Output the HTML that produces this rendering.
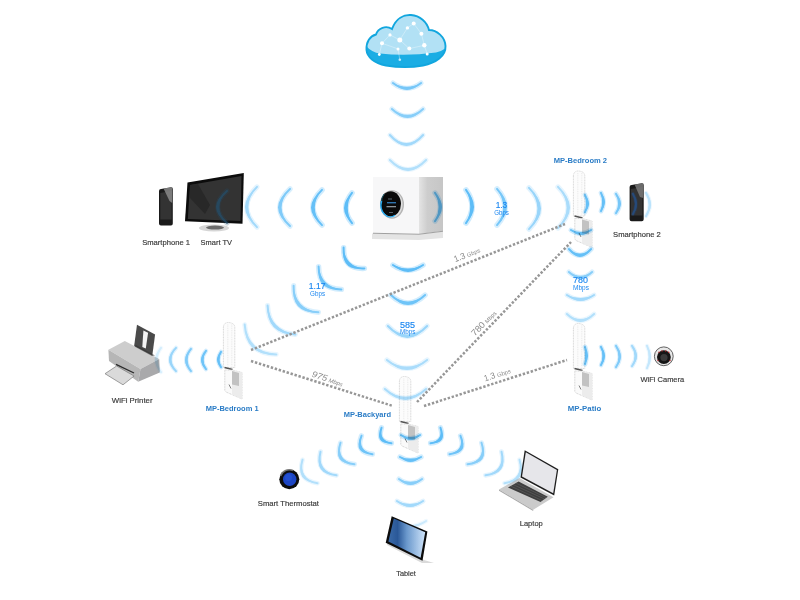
<!DOCTYPE html>
<html><head><meta charset="utf-8"><style>
html,body{margin:0;padding:0;background:#fff;width:800px;height:600px;overflow:hidden}
svg{display:block}
text{font-family:"Liberation Sans",sans-serif}
</style></head><body>
<svg width="800" height="600" viewBox="0 0 800 600">
<defs>
<linearGradient id="tabg" x1="0" y1="0" x2="1" y2="0"><stop offset="0" stop-color="#3a6aa8"/><stop offset="0.25" stop-color="#2a5898"/><stop offset="0.5" stop-color="#6a98cc"/><stop offset="1" stop-color="#cfe4fa"/></linearGradient>
<linearGradient id="cloudg" x1="0" y1="0" x2="0" y2="1"><stop offset="0" stop-color="#b4e2f4"/><stop offset="1" stop-color="#9ed6f0"/></linearGradient>
<linearGradient id="sideg" x1="0" y1="0" x2="1" y2="0"><stop offset="0" stop-color="#e4e4e4"/><stop offset="0.35" stop-color="#cdcdcd"/><stop offset="1" stop-color="#c6c6c6"/></linearGradient>
</defs>
<rect width="800" height="600" fill="#fff"/>
<g id="dev-under">
<!-- cloud -->
<g id="cloud">
  <clipPath id="cclip"><path id="cpath" d="M366.5 50 C366 42 370 36 376 34.5 C378 28 386 25 392 29 C396 18 404 14.5 411 15 C420 15.5 427 22 429 30 C437 30 445 37 445.5 46 C446 56 436 63 423 65.5 C412 67.5 398 67.5 386 65.5 C374 63 367 57 366.5 50Z"/></clipPath>
  <path d="M366.5 50 C366 42 370 36 376 34.5 C378 28 386 25 392 29 C396 18 404 14.5 411 15 C420 15.5 427 22 429 30 C437 30 445 37 445.5 46 C446 56 436 63 423 65.5 C412 67.5 398 67.5 386 65.5 C374 63 367 57 366.5 50Z" fill="#b2e1f5"/>
  <path clip-path="url(#cclip)" d="M360 44 L366 46 Q372 52.5 380 53.5 Q406 56.5 436 52.5 Q442 51 446 48 L450 48 L450 70 L360 70Z" fill="#1badE4"/>
  <path d="M366.5 50 C366 42 370 36 376 34.5 C378 28 386 25 392 29 C396 18 404 14.5 411 15 C420 15.5 427 22 429 30 C437 30 445 37 445.5 46 C446 56 436 63 423 65.5 C412 67.5 398 67.5 386 65.5 C374 63 367 57 366.5 50Z" fill="none" stroke="#12a6de" stroke-width="1.9"/>
  <g stroke="#fff" stroke-width="0.6" opacity="0.55" fill="none">
    <path d="M382 43.3 L390 34.9 L399.8 40 L407.4 27.9 L413.7 23.5 L421.4 33.7 L424.3 45.3 L409.3 48.6 L399.8 40 M398 48.9 L399.8 59.7 M382 43.3 L379.3 54.5 M424.3 45.3 L427.2 54 M382 43.3 L398 48.9"/>
  </g>
  <g fill="#fff">
    <circle cx="390" cy="34.9" r="1.6"/><circle cx="382" cy="43.3" r="2"/><circle cx="399.8" cy="40" r="2.5"/>
    <circle cx="398" cy="48.9" r="1.5"/><circle cx="379.3" cy="54.5" r="1.4"/><circle cx="399.8" cy="59.7" r="1.3" opacity="0.7"/>
    <circle cx="413.7" cy="23.5" r="2"/><circle cx="407.4" cy="27.9" r="1.7"/><circle cx="421.4" cy="33.7" r="2"/>
    <circle cx="424.3" cy="45.3" r="2.2"/><circle cx="409.3" cy="48.6" r="2"/><circle cx="427.2" cy="54" r="1.5"/>
  </g>
</g>
<!-- router -->
<g id="router">
  <path d="M372 233.5 L419 234.5 L443 231.5 L443 238 L419 240 L372 239Z" fill="#e4e4e4"/>
  <path d="M373 177 L419 177 L419 234 L373 233Z" fill="#f7f7f8"/>
  <path d="M419 177 L443 177 L443 231 L419 234Z" fill="url(#sideg)"/>
  <path d="M373 233.3 L419 234.3 L443 231.3" stroke="#a0a0a0" stroke-width="1.1" fill="none"/>
  <ellipse cx="392" cy="204.5" rx="12" ry="14.2" fill="#b4b4b4"/>
  <ellipse cx="391.6" cy="204.3" rx="11" ry="13.2" fill="#dedede"/>
  <ellipse cx="390.8" cy="203.8" rx="10.2" ry="12.6" fill="#0a0a0a"/>
  <path d="M384 194 A9.5 12 0 0 0 381.5 203" stroke="#1d5a6a" stroke-width="1" fill="none"/><path d="M381.6 201 A9.3 11.8 0 0 0 395 215.3" stroke="#22aaf2" stroke-width="1.4" fill="none"/>
  <g fill="#5d6670"><rect x="388" y="198.5" width="4" height="1"/><rect x="387" y="202" width="9" height="1.4" fill="#2f74b0"/><rect x="386.5" y="206" width="9.5" height="1.3" fill="#8a949c"/><rect x="389" y="212" width="4" height="0.9"/></g>
</g>
<!-- smartphone 1 -->
<g id="phone1">
  <path d="M159 191 Q159 189.2 161 189 L171 187.2 Q172.8 187 172.8 189 L172.8 223.5 Q172.8 225.5 171 225.5 L161 225.5 Q159 225.5 159 223.5Z" fill="#1a1a1a"/>
  <path d="M160.3 193 L171.6 191 L171.6 219.5 L160.3 219.5Z" fill="#333"/>
  <path d="M163.5 188.6 L172.2 187.3 L172.2 203 L169.5 201Z" fill="#8a8a8a" opacity="0.85"/>
</g>
<!-- smartphone 2 -->
<g id="phone2">
  <path d="M629.6 187 Q629.6 185.2 631.6 185 L641.8 183.2 Q643.7 183 643.7 185 L643.7 219.3 Q643.7 221.3 641.8 221.3 L631.6 221.3 Q629.6 221.3 629.6 219.3Z" fill="#1a1a1a"/>
  <path d="M630.9 189 L642.4 187 L642.4 215.5 L630.9 215.5Z" fill="#333"/>
  <path d="M634.5 184.4 L643.2 183.3 L643.2 198 L640 197Z" fill="#7a7a7a" opacity="0.85"/>
</g>
<!-- TV -->
<g id="tv">
  <ellipse cx="214" cy="228" rx="15" ry="3.6" fill="#d6d6d6"/>
  <ellipse cx="215" cy="227.6" rx="9" ry="2" fill="#6a6a6a"/>
  <path d="M187.5 182.5 L243.8 173 L242.5 223.8 L185 221.3Z" fill="#0c0c0c"/>
  <path d="M190 185 L241.5 176 L240.5 221 L187.8 219Z" fill="#333"/>
  <path d="M190 185 L198 184 L210 205 L205 214 L190 198Z" fill="#262626" opacity="0.8"/>
</g>
<!-- printer -->
<g id="printer">
  <path d="M137 324.7 L155.1 334.6 L152.2 356.2 L134.1 346.3Z" fill="#4a4a4a"/>
  <path d="M143.4 330.5 L148.1 332.8 L145.8 348.6 L142.3 347Z" fill="#f4f4f4"/>
  <path d="M108.4 349.8 L124.8 341 L159.2 359 L140.5 369Z" fill="#cdcdcd"/>
  <path d="M134.5 346.5 L152 356 L155 355.5 L136 345Z" fill="#333" opacity="0.6"/>
  <path d="M108.4 349.8 L140.5 369 L138.2 381.8 L109 361Z" fill="#b6b6b6"/>
  <path d="M140.5 369 L159.2 359 L159.8 372.5 L138.2 381.8Z" fill="#a9a9ab"/>
  <path d="M116 364.3 L134 373" stroke="#2a2a2a" stroke-width="1.3"/>
  <path d="M105 373.7 L116.6 366 L134.1 376 L123 384.8Z" fill="#dadada" stroke="#7a7a7a" stroke-width="0.7"/>
</g>
<!-- camera -->
<g id="camera">
  <circle cx="663.8" cy="356.3" r="9.4" fill="#e8e8e8" stroke="#505050" stroke-width="0.9"/>
  <circle cx="663.9" cy="357.1" r="6.9" fill="#161616"/>
  <circle cx="664" cy="357.6" r="3.6" fill="#3a3a3a"/>
  <g fill="#c0282a"><circle cx="659" cy="352.3" r="0.7"/><circle cx="662" cy="351" r="0.7"/><circle cx="665.8" cy="351" r="0.7"/><circle cx="668.7" cy="352.3" r="0.7"/><circle cx="658" cy="360.5" r="0.7"/><circle cx="670" cy="360.5" r="0.7"/></g>
</g>
<!-- thermostat -->
<g id="thermostat">
  <circle cx="289.3" cy="479.3" r="10" fill="#0e0e0e"/>
  <path d="M280.5 476 A9.3 9.3 0 0 1 293 470.5" stroke="#8a8a8a" stroke-width="1.6" fill="none" opacity="0.8"/>
  <circle cx="289.7" cy="479.2" r="6.7" fill="#1d46c4"/>
  <circle cx="288.5" cy="477.5" r="3.5" fill="#2a5ae0" opacity="0.5"/>
</g>
<!-- laptop base -->
<g id="laptop">
  <path d="M499 489.5 L519.4 478 L553.5 497.2 L533.2 509.8Z" fill="#cbcbcb"/>
  <path d="M499 489.5 L533.2 509.8 L533.2 511 L499 490.7Z" fill="#a8a8a8"/>
  <path d="M508 487.5 L518.6 481.4 L547.8 496.8 L540.5 502Z" fill="#3e3e3e"/>
  <g stroke="#8a8a8a" stroke-width="0.35" opacity="0.8"><path d="M510.5 486 L542 500.5 M513 484.5 L544.5 499 M515.8 483 L546.5 497.8"/></g>
  <path d="M524.7 450.3 L558.3 469.2 L554.2 495.5 L520.5 477.5Z" fill="#1e1e1e"/>
  <path d="M525.8 452.3 L556.9 469.9 L553.2 493.3 L522 476.5Z" fill="#e6e6ea"/>
</g>
<!-- MP devices -->
<g id="mp">
  <g transform="translate(223,322.5)">
    <path d="M0.4 5 Q0.6 0 5.5 0 Q11.8 0.5 11.8 5 L11.8 45 L0.4 45Z" fill="#fcfcfc" stroke="#d2d2d2" stroke-width="0.9" stroke-dasharray="1 0.6"/>
    <path d="M4.8 2 L4.8 44 M8.8 2 L8.8 44" stroke="#e2e2e2" stroke-width="0.7" stroke-dasharray="1 0.8"/>
    <path d="M1.5 45 L9.5 47" stroke="#555" stroke-width="1.3"/>
    <path d="M1.8 47.5 L9 47.5 L19 50 L19 76.5 L3 69.5 L1.8 68Z" fill="#fafafa" stroke="#d0d0d0" stroke-width="0.9" stroke-dasharray="1 0.6"/>
    <path d="M9 48 L19 50 L19 76.5 L9 72Z" fill="#ececec" stroke="none"/>
    <path d="M9 48.5 L16 50.5 L16 63.5 L9 62Z" fill="#c2c2c2" stroke="none"/>
    <path d="M6 62 L8 66" stroke="#666" stroke-width="0.8"/>
  </g>
  <g transform="translate(573,171)">
    <path d="M0.4 5 Q0.6 0 5.5 0 Q11.8 0.5 11.8 5 L11.8 45 L0.4 45Z" fill="#fcfcfc" stroke="#d2d2d2" stroke-width="0.9" stroke-dasharray="1 0.6"/>
    <path d="M4.8 2 L4.8 44 M8.8 2 L8.8 44" stroke="#e2e2e2" stroke-width="0.7" stroke-dasharray="1 0.8"/>
    <path d="M1.5 45 L9.5 47" stroke="#555" stroke-width="1.3"/>
    <path d="M1.8 47.5 L9 47.5 L19 50 L19 76.5 L3 69.5 L1.8 68Z" fill="#fafafa" stroke="#d0d0d0" stroke-width="0.9" stroke-dasharray="1 0.6"/>
    <path d="M9 48 L19 50 L19 76.5 L9 72Z" fill="#ececec" stroke="none"/>
    <path d="M9 48.5 L16 50.5 L16 63.5 L9 62Z" fill="#c2c2c2" stroke="none"/>
    <path d="M6 62 L8 66" stroke="#666" stroke-width="0.8"/>
  </g>
  <g transform="translate(399,376.5)">
    <path d="M0.4 5 Q0.6 0 5.5 0 Q11.8 0.5 11.8 5 L11.8 45 L0.4 45Z" fill="#fcfcfc" stroke="#d2d2d2" stroke-width="0.9" stroke-dasharray="1 0.6"/>
    <path d="M4.8 2 L4.8 44 M8.8 2 L8.8 44" stroke="#e2e2e2" stroke-width="0.7" stroke-dasharray="1 0.8"/>
    <path d="M1.5 45 L9.5 47" stroke="#555" stroke-width="1.3"/>
    <path d="M1.8 47.5 L9 47.5 L19 50 L19 76.5 L3 69.5 L1.8 68Z" fill="#fafafa" stroke="#d0d0d0" stroke-width="0.9" stroke-dasharray="1 0.6"/>
    <path d="M9 48 L19 50 L19 76.5 L9 72Z" fill="#ececec" stroke="none"/>
    <path d="M9 48.5 L16 50.5 L16 63.5 L9 62Z" fill="#c2c2c2" stroke="none"/>
    <path d="M6 62 L8 66" stroke="#666" stroke-width="0.8"/>
  </g>
  <g transform="translate(573,323.5)">
    <path d="M0.4 5 Q0.6 0 5.5 0 Q11.8 0.5 11.8 5 L11.8 45 L0.4 45Z" fill="#fcfcfc" stroke="#d2d2d2" stroke-width="0.9" stroke-dasharray="1 0.6"/>
    <path d="M4.8 2 L4.8 44 M8.8 2 L8.8 44" stroke="#e2e2e2" stroke-width="0.7" stroke-dasharray="1 0.8"/>
    <path d="M1.5 45 L9.5 47" stroke="#555" stroke-width="1.3"/>
    <path d="M1.8 47.5 L9 47.5 L19 50 L19 76.5 L3 69.5 L1.8 68Z" fill="#fafafa" stroke="#d0d0d0" stroke-width="0.9" stroke-dasharray="1 0.6"/>
    <path d="M9 48 L19 50 L19 76.5 L9 72Z" fill="#ececec" stroke="none"/>
    <path d="M9 48.5 L16 50.5 L16 63.5 L9 62Z" fill="#c2c2c2" stroke="none"/>
    <path d="M6 62 L8 66" stroke="#666" stroke-width="0.8"/>
  </g>
</g>

</g>
<g id="arcs" style="mix-blend-mode:multiply">
<g opacity="0.8"><path d="M392.9 83Q407 93.8 421.1 83" fill="none" stroke="#56baf7" stroke-opacity="0.3" stroke-width="5" stroke-linecap="round"/><path d="M392.9 83Q407 97 421.1 83Q407 90.6 392.9 83Z" fill="#56baf7"/><path d="M392.9 83Q407 93.8 421.1 83" fill="none" stroke="#56baf7" stroke-width="2" stroke-linecap="round"/></g>
<g opacity="0.7"><path d="M391.9 109Q407.5 123.8 423.1 109" fill="none" stroke="#56baf7" stroke-opacity="0.3" stroke-width="5" stroke-linecap="round"/><path d="M391.9 109Q407.5 127 423.1 109Q407.5 120.6 391.9 109Z" fill="#56baf7"/><path d="M391.9 109Q407.5 123.8 423.1 109" fill="none" stroke="#56baf7" stroke-width="2" stroke-linecap="round"/></g>
<g opacity="0.55"><path d="M389.9 135Q406.5 154 423.1 135" fill="none" stroke="#56baf7" stroke-opacity="0.3" stroke-width="4.8" stroke-linecap="round"/><path d="M389.9 135Q406.5 157 423.1 135Q406.5 151 389.9 135Z" fill="#56baf7"/><path d="M389.9 135Q406.5 154 423.1 135" fill="none" stroke="#56baf7" stroke-width="2" stroke-linecap="round"/></g>
<g opacity="0.45"><path d="M389.9 160Q408 179 426.1 160" fill="none" stroke="#56baf7" stroke-opacity="0.3" stroke-width="4.8" stroke-linecap="round"/><path d="M389.9 160Q408 182 426.1 160Q408 176 389.9 160Z" fill="#56baf7"/><path d="M389.9 160Q408 179 426.1 160" fill="none" stroke="#56baf7" stroke-width="2" stroke-linecap="round"/></g>
<g opacity="0.55"><path d="M257 186.9Q236.4 207 257 227.1" fill="none" stroke="#56baf7" stroke-opacity="0.3" stroke-width="5.2" stroke-linecap="round"/><path d="M257 186.9Q233 207 257 227.1Q239.8 207 257 186.9Z" fill="#56baf7"/><path d="M257 186.9Q236.4 207 257 227.1" fill="none" stroke="#56baf7" stroke-width="2" stroke-linecap="round"/></g>
<g opacity="0.75"><path d="M290 188.9Q269.6 207.5 290 226.1" fill="none" stroke="#56baf7" stroke-opacity="0.3" stroke-width="5.4" stroke-linecap="round"/><path d="M290 188.9Q266 207.5 290 226.1Q273.2 207.5 290 188.9Z" fill="#56baf7"/><path d="M290 188.9Q269.6 207.5 290 226.1" fill="none" stroke="#56baf7" stroke-width="2" stroke-linecap="round"/></g>
<g opacity="0.9"><path d="M322 189.9Q303.8 207.5 322 225.1" fill="none" stroke="#56baf7" stroke-opacity="0.3" stroke-width="5.6" stroke-linecap="round"/><path d="M322 189.9Q300 207.5 322 225.1Q307.6 207.5 322 189.9Z" fill="#56baf7"/><path d="M322 189.9Q303.8 207.5 322 225.1" fill="none" stroke="#56baf7" stroke-width="2" stroke-linecap="round"/></g>
<g opacity="0.95"><path d="M352 192.9Q339.8 208 352 223.1" fill="none" stroke="#56baf7" stroke-opacity="0.3" stroke-width="5.6" stroke-linecap="round"/><path d="M352 192.9Q336 208 352 223.1Q343.6 208 352 192.9Z" fill="#56baf7"/><path d="M352 192.9Q339.8 208 352 223.1" fill="none" stroke="#56baf7" stroke-width="2" stroke-linecap="round"/></g>
<g opacity="0.9"><path d="M435 192.9Q445.6 207 435 221.1" fill="none" stroke="#56baf7" stroke-opacity="0.3" stroke-width="5.2" stroke-linecap="round"/><path d="M435 192.9Q449 207 435 221.1Q442.2 207 435 192.9Z" fill="#56baf7"/><path d="M435 192.9Q445.6 207 435 221.1" fill="none" stroke="#56baf7" stroke-width="2" stroke-linecap="round"/></g>
<g opacity="0.95"><path d="M466 189.9Q478.2 206.5 466 223.1" fill="none" stroke="#56baf7" stroke-opacity="0.3" stroke-width="5.6" stroke-linecap="round"/><path d="M466 189.9Q482 206.5 466 223.1Q474.4 206.5 466 189.9Z" fill="#56baf7"/><path d="M466 189.9Q478.2 206.5 466 223.1" fill="none" stroke="#56baf7" stroke-width="2" stroke-linecap="round"/></g>
<g opacity="0.8"><path d="M497 188.9Q513.2 207 497 225.1" fill="none" stroke="#56baf7" stroke-opacity="0.3" stroke-width="5.6" stroke-linecap="round"/><path d="M497 188.9Q517 207 497 225.1Q509.4 207 497 188.9Z" fill="#56baf7"/><path d="M497 188.9Q513.2 207 497 225.1" fill="none" stroke="#56baf7" stroke-width="2" stroke-linecap="round"/></g>
<g opacity="0.6"><path d="M529 187.9Q549.4 208.5 529 229.1" fill="none" stroke="#56baf7" stroke-opacity="0.3" stroke-width="5.4" stroke-linecap="round"/><path d="M529 187.9Q553 208.5 529 229.1Q545.8 208.5 529 187.9Z" fill="#56baf7"/><path d="M529 187.9Q549.4 208.5 529 229.1" fill="none" stroke="#56baf7" stroke-width="2" stroke-linecap="round"/></g>
<g opacity="0.5"><path d="M558 186.9Q578.6 207.5 558 228.1" fill="none" stroke="#56baf7" stroke-opacity="0.3" stroke-width="5.2" stroke-linecap="round"/><path d="M558 186.9Q582 207.5 558 228.1Q575.2 207.5 558 186.9Z" fill="#56baf7"/><path d="M558 186.9Q578.6 207.5 558 228.1" fill="none" stroke="#56baf7" stroke-width="2" stroke-linecap="round"/></g>
<g opacity="0.9"><path d="M585 194.9Q590 203.5 585 212.1" fill="none" stroke="#56baf7" stroke-opacity="0.3" stroke-width="4.8" stroke-linecap="round"/><path d="M585 194.9Q593 203.5 585 212.1Q587 203.5 585 194.9Z" fill="#56baf7"/><path d="M585 194.9Q590 203.5 585 212.1" fill="none" stroke="#56baf7" stroke-width="2" stroke-linecap="round"/></g>
<g opacity="0.9"><path d="M570.9 230Q581 237 591.1 230" fill="none" stroke="#56baf7" stroke-opacity="0.3" stroke-width="4.8" stroke-linecap="round"/><path d="M570.9 230Q581 240 591.1 230Q581 234 570.9 230Z" fill="#56baf7"/><path d="M570.9 230Q581 237 591.1 230" fill="none" stroke="#56baf7" stroke-width="2" stroke-linecap="round"/></g>
<g opacity="0.9"><path d="M601 192.9Q606 202 601 211.1" fill="none" stroke="#56baf7" stroke-opacity="0.3" stroke-width="4.8" stroke-linecap="round"/><path d="M601 192.9Q609 202 601 211.1Q603 202 601 192.9Z" fill="#56baf7"/><path d="M601 192.9Q606 202 601 211.1" fill="none" stroke="#56baf7" stroke-width="2" stroke-linecap="round"/></g>
<g opacity="0.8"><path d="M616 193.9Q623 203.5 616 213.1" fill="none" stroke="#56baf7" stroke-opacity="0.3" stroke-width="4.8" stroke-linecap="round"/><path d="M616 193.9Q626 203.5 616 213.1Q620 203.5 616 193.9Z" fill="#56baf7"/><path d="M616 193.9Q623 203.5 616 213.1" fill="none" stroke="#56baf7" stroke-width="2" stroke-linecap="round"/></g>
<g opacity="0.4"><path d="M646 192.9Q653.6 204.5 646 216.1" fill="none" stroke="#56baf7" stroke-opacity="0.3" stroke-width="4.2" stroke-linecap="round"/><path d="M646 192.9Q656 204.5 646 216.1Q651.2 204.5 646 192.9Z" fill="#56baf7"/><path d="M646 192.9Q653.6 204.5 646 216.1" fill="none" stroke="#56baf7" stroke-width="2" stroke-linecap="round"/></g>
<g opacity="0.9"><path d="M568.9 249Q580 261.6 591.1 249" fill="none" stroke="#56baf7" stroke-opacity="0.3" stroke-width="5.2" stroke-linecap="round"/><path d="M568.9 249Q580 265 591.1 249Q580 258.2 568.9 249Z" fill="#56baf7"/><path d="M568.9 249Q580 261.6 591.1 249" fill="none" stroke="#56baf7" stroke-width="2" stroke-linecap="round"/></g>
<g opacity="0.7"><path d="M568.9 272Q580.5 282.8 592.1 272" fill="none" stroke="#56baf7" stroke-opacity="0.3" stroke-width="5" stroke-linecap="round"/><path d="M568.9 272Q580.5 286 592.1 272Q580.5 279.6 568.9 272Z" fill="#56baf7"/><path d="M568.9 272Q580.5 282.8 592.1 272" fill="none" stroke="#56baf7" stroke-width="2" stroke-linecap="round"/></g>
<g opacity="0.55"><path d="M566.9 295Q580.5 304 594.1 295" fill="none" stroke="#56baf7" stroke-opacity="0.3" stroke-width="4.8" stroke-linecap="round"/><path d="M566.9 295Q580.5 307 594.1 295Q580.5 301 566.9 295Z" fill="#56baf7"/><path d="M566.9 295Q580.5 304 594.1 295" fill="none" stroke="#56baf7" stroke-width="2" stroke-linecap="round"/></g>
<g opacity="0.45"><path d="M566.9 314Q580.5 327 594.1 314" fill="none" stroke="#56baf7" stroke-opacity="0.3" stroke-width="4.8" stroke-linecap="round"/><path d="M566.9 314Q580.5 330 594.1 314Q580.5 324 566.9 314Z" fill="#56baf7"/><path d="M566.9 314Q580.5 327 594.1 314" fill="none" stroke="#56baf7" stroke-width="2" stroke-linecap="round"/></g>
<g opacity="0.9"><path d="M585 346.9Q588 355.5 585 364.1" fill="none" stroke="#56baf7" stroke-opacity="0.3" stroke-width="4.8" stroke-linecap="round"/><path d="M585 346.9Q591 355.5 585 364.1Q585 355.5 585 346.9Z" fill="#56baf7"/><path d="M585 346.9Q588 355.5 585 364.1" fill="none" stroke="#56baf7" stroke-width="2" stroke-linecap="round"/></g>
<g opacity="0.9"><path d="M601 346.9Q606.4 356 601 365.1" fill="none" stroke="#56baf7" stroke-opacity="0.3" stroke-width="4.4" stroke-linecap="round"/><path d="M601 346.9Q609 356 601 365.1Q603.8 356 601 346.9Z" fill="#56baf7"/><path d="M601 346.9Q606.4 356 601 365.1" fill="none" stroke="#56baf7" stroke-width="2" stroke-linecap="round"/></g>
<g opacity="0.75"><path d="M616 345.9Q623.4 356.5 616 367.1" fill="none" stroke="#56baf7" stroke-opacity="0.3" stroke-width="4.4" stroke-linecap="round"/><path d="M616 345.9Q626 356.5 616 367.1Q620.8 356.5 616 345.9Z" fill="#56baf7"/><path d="M616 345.9Q623.4 356.5 616 367.1" fill="none" stroke="#56baf7" stroke-width="2" stroke-linecap="round"/></g>
<g opacity="0.55"><path d="M632 345.9Q639.5 356 632 366.1" fill="none" stroke="#56baf7" stroke-opacity="0.3" stroke-width="4.3" stroke-linecap="round"/><path d="M632 345.9Q642 356 632 366.1Q637 356 632 345.9Z" fill="#56baf7"/><path d="M632 345.9Q639.5 356 632 366.1" fill="none" stroke="#56baf7" stroke-width="2" stroke-linecap="round"/></g>
<g opacity="0.35"><path d="M647 345.9Q652.6 357 647 368.1" fill="none" stroke="#56baf7" stroke-opacity="0.3" stroke-width="4.2" stroke-linecap="round"/><path d="M647 345.9Q655 357 647 368.1Q650.2 357 647 345.9Z" fill="#56baf7"/><path d="M647 345.9Q652.6 357 647 368.1" fill="none" stroke="#56baf7" stroke-width="2" stroke-linecap="round"/></g>
<g opacity="0.25"><path d="M161 347.9Q151.6 360 161 372.1" fill="none" stroke="#56baf7" stroke-opacity="0.3" stroke-width="4.4" stroke-linecap="round"/><path d="M161 347.9Q149 360 161 372.1Q154.2 360 161 347.9Z" fill="#56baf7"/><path d="M161 347.9Q151.6 360 161 372.1" fill="none" stroke="#56baf7" stroke-width="2" stroke-linecap="round"/></g>
<g opacity="0.6"><path d="M176 347.9Q164.5 359.5 176 371.1" fill="none" stroke="#56baf7" stroke-opacity="0.3" stroke-width="4.3" stroke-linecap="round"/><path d="M176 347.9Q162 359.5 176 371.1Q167 359.5 176 347.9Z" fill="#56baf7"/><path d="M176 347.9Q164.5 359.5 176 371.1" fill="none" stroke="#56baf7" stroke-width="2" stroke-linecap="round"/></g>
<g opacity="0.75"><path d="M191 348.9Q181.6 360 191 371.1" fill="none" stroke="#56baf7" stroke-opacity="0.3" stroke-width="4.4" stroke-linecap="round"/><path d="M191 348.9Q179 360 191 371.1Q184.2 360 191 348.9Z" fill="#56baf7"/><path d="M191 348.9Q181.6 360 191 371.1" fill="none" stroke="#56baf7" stroke-width="2" stroke-linecap="round"/></g>
<g opacity="0.85"><path d="M206 350.9Q198.6 360 206 369.1" fill="none" stroke="#56baf7" stroke-opacity="0.3" stroke-width="4.4" stroke-linecap="round"/><path d="M206 350.9Q196 360 206 369.1Q201.2 360 206 350.9Z" fill="#56baf7"/><path d="M206 350.9Q198.6 360 206 369.1" fill="none" stroke="#56baf7" stroke-width="2" stroke-linecap="round"/></g>
<g opacity="0.9"><path d="M221 351.9Q215.6 359.5 221 367.1" fill="none" stroke="#56baf7" stroke-opacity="0.3" stroke-width="4.4" stroke-linecap="round"/><path d="M221 351.9Q213 359.5 221 367.1Q218.2 359.5 221 351.9Z" fill="#56baf7"/><path d="M221 351.9Q215.6 359.5 221 367.1" fill="none" stroke="#56baf7" stroke-width="2" stroke-linecap="round"/></g>
<g opacity="0.95"><path d="M392.9 265Q408 275.4 423.1 265" fill="none" stroke="#56baf7" stroke-opacity="0.3" stroke-width="5.4" stroke-linecap="round"/><path d="M392.9 265Q408 279 423.1 265Q408 271.8 392.9 265Z" fill="#56baf7"/><path d="M392.9 265Q408 275.4 423.1 265" fill="none" stroke="#56baf7" stroke-width="2" stroke-linecap="round"/></g>
<g opacity="0.85"><path d="M390.9 295Q408 311.4 425.1 295" fill="none" stroke="#56baf7" stroke-opacity="0.3" stroke-width="5.4" stroke-linecap="round"/><path d="M390.9 295Q408 315 425.1 295Q408 307.8 390.9 295Z" fill="#56baf7"/><path d="M390.9 295Q408 311.4 425.1 295" fill="none" stroke="#56baf7" stroke-width="2" stroke-linecap="round"/></g>
<g opacity="0.6"><path d="M387.9 326Q407.5 346.6 427.1 326" fill="none" stroke="#56baf7" stroke-opacity="0.3" stroke-width="5.2" stroke-linecap="round"/><path d="M387.9 326Q407.5 350 427.1 326Q407.5 343.2 387.9 326Z" fill="#56baf7"/><path d="M387.9 326Q407.5 346.6 427.1 326" fill="none" stroke="#56baf7" stroke-width="2" stroke-linecap="round"/></g>
<g opacity="0.5"><path d="M386.9 360Q407 376.6 427.1 360" fill="none" stroke="#56baf7" stroke-opacity="0.3" stroke-width="5.2" stroke-linecap="round"/><path d="M386.9 360Q407 380 427.1 360Q407 373.2 386.9 360Z" fill="#56baf7"/><path d="M386.9 360Q407 376.6 427.1 360" fill="none" stroke="#56baf7" stroke-width="2" stroke-linecap="round"/></g>
<g opacity="0.95"><path d="M343.6 247.6Q342.7 269.3 364.4 268.4" fill="none" stroke="#56baf7" stroke-opacity="0.3" stroke-width="5.4" stroke-linecap="round"/><path d="M343.6 247.6Q340.1 271.9 364.4 268.4Q345.2 266.8 343.6 247.6Z" fill="#56baf7"/><path d="M343.6 247.6Q342.7 269.3 364.4 268.4" fill="none" stroke="#56baf7" stroke-width="2" stroke-linecap="round"/></g>
<g opacity="0.85"><path d="M318.6 266.6Q318.7 289.3 341.4 289.4" fill="none" stroke="#56baf7" stroke-opacity="0.3" stroke-width="5.4" stroke-linecap="round"/><path d="M318.6 266.6Q316.1 291.9 341.4 289.4Q321.2 286.8 318.6 266.6Z" fill="#56baf7"/><path d="M318.6 266.6Q318.7 289.3 341.4 289.4" fill="none" stroke="#56baf7" stroke-width="2" stroke-linecap="round"/></g>
<g opacity="0.7"><path d="M293.6 285.7Q292.8 311.2 318.4 312.3" fill="none" stroke="#56baf7" stroke-opacity="0.3" stroke-width="5.2" stroke-linecap="round"/><path d="M293.6 285.7Q290.3 313.6 318.4 312.3Q295.3 308.9 293.6 285.7Z" fill="#56baf7"/><path d="M293.6 285.7Q292.8 311.2 318.4 312.3" fill="none" stroke="#56baf7" stroke-width="2" stroke-linecap="round"/></g>
<g opacity="0.55"><path d="M267.6 305.6Q268.6 332.5 295.4 334.4" fill="none" stroke="#56baf7" stroke-opacity="0.3" stroke-width="5" stroke-linecap="round"/><path d="M267.6 305.6Q266.3 334.7 295.4 334.4Q270.9 330.3 267.6 305.6Z" fill="#56baf7"/><path d="M267.6 305.6Q268.6 332.5 295.4 334.4" fill="none" stroke="#56baf7" stroke-width="2" stroke-linecap="round"/></g>
<g opacity="0.45"><path d="M244.7 324.6Q246.8 354.1 276.3 354.4" fill="none" stroke="#56baf7" stroke-opacity="0.3" stroke-width="4.8" stroke-linecap="round"/><path d="M244.7 324.6Q244.8 356.3 276.3 354.4Q248.9 351.9 244.7 324.6Z" fill="#56baf7"/><path d="M244.7 324.6Q246.8 354.1 276.3 354.4" fill="none" stroke="#56baf7" stroke-width="2" stroke-linecap="round"/></g>
<g opacity="0.5"><path d="M384.9 389Q405.5 407.8 426.1 389" fill="none" stroke="#56baf7" stroke-opacity="0.3" stroke-width="5" stroke-linecap="round"/><path d="M384.9 389Q405.5 411 426.1 389Q405.5 404.6 384.9 389Z" fill="#56baf7"/><path d="M384.9 389Q405.5 407.8 426.1 389" fill="none" stroke="#56baf7" stroke-width="2" stroke-linecap="round"/></g>
<g opacity="0.9"><path d="M400.9 435Q410.5 442 420.1 435" fill="none" stroke="#56baf7" stroke-opacity="0.3" stroke-width="4.8" stroke-linecap="round"/><path d="M400.9 435Q410.5 445 420.1 435Q410.5 439 400.9 435Z" fill="#56baf7"/><path d="M400.9 435Q410.5 442 420.1 435" fill="none" stroke="#56baf7" stroke-width="2" stroke-linecap="round"/></g>
<g opacity="0.9"><path d="M399.9 457Q410.5 463.6 421.1 457" fill="none" stroke="#56baf7" stroke-opacity="0.3" stroke-width="5.2" stroke-linecap="round"/><path d="M399.9 457Q410.5 467 421.1 457Q410.5 460.2 399.9 457Z" fill="#56baf7"/><path d="M399.9 457Q410.5 463.6 421.1 457" fill="none" stroke="#56baf7" stroke-width="2" stroke-linecap="round"/></g>
<g opacity="0.7"><path d="M398.9 479Q410.5 487.8 422.1 479" fill="none" stroke="#56baf7" stroke-opacity="0.3" stroke-width="5" stroke-linecap="round"/><path d="M398.9 479Q410.5 491 422.1 479Q410.5 484.6 398.9 479Z" fill="#56baf7"/><path d="M398.9 479Q410.5 487.8 422.1 479" fill="none" stroke="#56baf7" stroke-width="2" stroke-linecap="round"/></g>
<g opacity="0.55"><path d="M396.9 501Q410 510 423.1 501" fill="none" stroke="#56baf7" stroke-opacity="0.3" stroke-width="4.8" stroke-linecap="round"/><path d="M396.9 501Q410 513 423.1 501Q410 507 396.9 501Z" fill="#56baf7"/><path d="M396.9 501Q410 510 423.1 501" fill="none" stroke="#56baf7" stroke-width="2" stroke-linecap="round"/></g>
<g opacity="0.3"><path d="M394.9 521Q410.5 531.4 426.1 521" fill="none" stroke="#56baf7" stroke-opacity="0.3" stroke-width="4.4" stroke-linecap="round"/><path d="M394.9 521Q410.5 534 426.1 521Q410.5 528.8 394.9 521Z" fill="#56baf7"/><path d="M394.9 521Q410.5 531.4 426.1 521" fill="none" stroke="#56baf7" stroke-width="2" stroke-linecap="round"/></g>
<g opacity="0.95"><path d="M381.5 427.8Q376.4 442 391.5 443.2" fill="none" stroke="#56baf7" stroke-opacity="0.3" stroke-width="5.2" stroke-linecap="round"/><path d="M381.5 427.8Q373.6 443.9 391.5 443.2Q379.3 440.2 381.5 427.8Z" fill="#56baf7"/><path d="M381.5 427.8Q376.4 442 391.5 443.2" fill="none" stroke="#56baf7" stroke-width="2" stroke-linecap="round"/></g>
<g opacity="0.85"><path d="M361.5 435.8Q355 452.2 372.5 454.2" fill="none" stroke="#56baf7" stroke-opacity="0.3" stroke-width="5.2" stroke-linecap="round"/><path d="M361.5 435.8Q352.1 454 372.5 454.2Q357.9 450.5 361.5 435.8Z" fill="#56baf7"/><path d="M361.5 435.8Q355 452.2 372.5 454.2" fill="none" stroke="#56baf7" stroke-width="2" stroke-linecap="round"/></g>
<g opacity="0.7"><path d="M340.5 442.8Q334.1 462.2 354.5 464.2" fill="none" stroke="#56baf7" stroke-opacity="0.3" stroke-width="5" stroke-linecap="round"/><path d="M340.5 442.8Q331.4 464 354.5 464.2Q336.8 460.5 340.5 442.8Z" fill="#56baf7"/><path d="M340.5 442.8Q334.1 462.2 354.5 464.2" fill="none" stroke="#56baf7" stroke-width="2" stroke-linecap="round"/></g>
<g opacity="0.55"><path d="M320.5 451.7Q315.3 472.5 336.5 475.3" fill="none" stroke="#56baf7" stroke-opacity="0.3" stroke-width="4.8" stroke-linecap="round"/><path d="M320.5 451.7Q312.8 474.2 336.5 475.3Q317.7 470.8 320.5 451.7Z" fill="#56baf7"/><path d="M320.5 451.7Q315.3 472.5 336.5 475.3" fill="none" stroke="#56baf7" stroke-width="2" stroke-linecap="round"/></g>
<g opacity="0.45"><path d="M302.5 459.8Q296.5 480.1 317.5 483.2" fill="none" stroke="#56baf7" stroke-opacity="0.3" stroke-width="4.6" stroke-linecap="round"/><path d="M302.5 459.8Q294.2 481.6 317.5 483.2Q298.9 478.6 302.5 459.8Z" fill="#56baf7"/><path d="M302.5 459.8Q296.5 480.1 317.5 483.2" fill="none" stroke="#56baf7" stroke-width="2" stroke-linecap="round"/></g>
<g opacity="0.95"><path d="M440.5 427.8Q445.6 442 430.5 443.2" fill="none" stroke="#56baf7" stroke-opacity="0.3" stroke-width="5.2" stroke-linecap="round"/><path d="M440.5 427.8Q448.4 443.9 430.5 443.2Q442.7 440.2 440.5 427.8Z" fill="#56baf7"/><path d="M440.5 427.8Q445.6 442 430.5 443.2" fill="none" stroke="#56baf7" stroke-width="2" stroke-linecap="round"/></g>
<g opacity="0.85"><path d="M460.5 435.8Q467 452.2 449.5 454.2" fill="none" stroke="#56baf7" stroke-opacity="0.3" stroke-width="5.2" stroke-linecap="round"/><path d="M460.5 435.8Q469.9 454 449.5 454.2Q464.1 450.5 460.5 435.8Z" fill="#56baf7"/><path d="M460.5 435.8Q467 452.2 449.5 454.2" fill="none" stroke="#56baf7" stroke-width="2" stroke-linecap="round"/></g>
<g opacity="0.7"><path d="M481.5 442.8Q487.9 462.2 467.5 464.2" fill="none" stroke="#56baf7" stroke-opacity="0.3" stroke-width="5" stroke-linecap="round"/><path d="M481.5 442.8Q490.6 464 467.5 464.2Q485.2 460.5 481.5 442.8Z" fill="#56baf7"/><path d="M481.5 442.8Q487.9 462.2 467.5 464.2" fill="none" stroke="#56baf7" stroke-width="2" stroke-linecap="round"/></g>
<g opacity="0.55"><path d="M501.5 451.7Q506.7 472.5 485.5 475.3" fill="none" stroke="#56baf7" stroke-opacity="0.3" stroke-width="4.8" stroke-linecap="round"/><path d="M501.5 451.7Q509.2 474.2 485.5 475.3Q504.3 470.8 501.5 451.7Z" fill="#56baf7"/><path d="M501.5 451.7Q506.7 472.5 485.5 475.3" fill="none" stroke="#56baf7" stroke-width="2" stroke-linecap="round"/></g>
<g opacity="0.45"><path d="M519.5 459.8Q525.5 480.1 504.5 483.2" fill="none" stroke="#56baf7" stroke-opacity="0.3" stroke-width="4.6" stroke-linecap="round"/><path d="M519.5 459.8Q527.8 481.6 504.5 483.2Q523.1 478.6 519.5 459.8Z" fill="#56baf7"/><path d="M519.5 459.8Q525.5 480.1 504.5 483.2" fill="none" stroke="#56baf7" stroke-width="2" stroke-linecap="round"/></g>
</g>
<g id="overarcs">
<g opacity="0.8"><path d="M633 193.9Q639 204 633 214.1" fill="none" stroke="#23508c" stroke-opacity="0.3" stroke-width="3.8" stroke-linecap="round"/><path d="M633 193.9Q641 204 633 214.1Q637 204 633 193.9Z" fill="#23508c"/><path d="M633 193.9Q639 204 633 214.1" fill="none" stroke="#23508c" stroke-width="2" stroke-linecap="round"/></g>
<g opacity="0.75"><path d="M227 190.9Q208.4 207 227 223.1" fill="none" stroke="#24506e" stroke-opacity="0.3" stroke-width="5.2" stroke-linecap="round"/><path d="M227 190.9Q205 207 227 223.1Q211.8 207 227 190.9Z" fill="#24506e"/><path d="M227 190.9Q208.4 207 227 223.1" fill="none" stroke="#24506e" stroke-width="2" stroke-linecap="round"/></g>
</g>
<g id="lines">
<line x1="251" y1="350" x2="565" y2="224" stroke="#979797" stroke-width="2.5" stroke-dasharray="2.4 1.75"/>
<line x1="251" y1="361" x2="393" y2="406" stroke="#979797" stroke-width="2.5" stroke-dasharray="2.4 1.75"/>
<line x1="417" y1="402" x2="571" y2="242" stroke="#979797" stroke-width="2.5" stroke-dasharray="2.4 1.75"/>
<line x1="424" y1="406" x2="567" y2="360" stroke="#979797" stroke-width="2.5" stroke-dasharray="2.4 1.75"/>
</g>
<g id="dev-over">

<!-- tablet -->
<g id="tablet">
  <path d="M387 545 L422 563 L434 563 L424 560 L388 541Z" fill="#dadada"/>
  <path d="M391.7 516.2 L427.4 531.5 L422.5 560.7 L385.7 542.7Z" fill="#0c0c0c"/>
  <path d="M393.8 518.6 L425.2 532.3 L420.6 557.8 L388.4 541.5Z" fill="url(#tabg)"/>
</g>

</g>
<g id="labels">
<text x="142.2" y="244.6" font-size="8" fill="#3a3a3a" textLength="47.8" lengthAdjust="spacingAndGlyphs" stroke="#3a3a3a" stroke-width="0.18">Smartphone 1</text>
<text x="200.6" y="244.6" font-size="8" fill="#3a3a3a" textLength="31.3" lengthAdjust="spacingAndGlyphs" stroke="#3a3a3a" stroke-width="0.18">Smart TV</text>
<text x="613.1" y="236.8" font-size="8" fill="#3a3a3a" textLength="47.7" lengthAdjust="spacingAndGlyphs" stroke="#3a3a3a" stroke-width="0.18">Smartphone 2</text>
<text x="111.8" y="402.9" font-size="8" fill="#3a3a3a" textLength="40.7" lengthAdjust="spacingAndGlyphs" stroke="#3a3a3a" stroke-width="0.18">WiFi Printer</text>
<text x="640.5" y="381.8" font-size="8" fill="#3a3a3a" textLength="43.7" lengthAdjust="spacingAndGlyphs" stroke="#3a3a3a" stroke-width="0.18">WiFi Camera</text>
<text x="257.8" y="505.5" font-size="8" fill="#3a3a3a" textLength="61.2" lengthAdjust="spacingAndGlyphs" stroke="#3a3a3a" stroke-width="0.18">Smart Thermostat</text>
<text x="396.2" y="575.8" font-size="8" fill="#3a3a3a" textLength="19.7" lengthAdjust="spacingAndGlyphs" stroke="#3a3a3a" stroke-width="0.18">Tablet</text>
<text x="519.7" y="525.8" font-size="8" fill="#3a3a3a" textLength="23.1" lengthAdjust="spacingAndGlyphs" stroke="#3a3a3a" stroke-width="0.18">Laptop</text>
<text x="553.7" y="162.9" font-size="7.9" fill="#2a7cc6" font-weight="bold" textLength="53.4" lengthAdjust="spacingAndGlyphs">MP-Bedroom 2</text>
<text x="205.7" y="410.9" font-size="7.9" fill="#2a7cc6" font-weight="bold" textLength="52.9" lengthAdjust="spacingAndGlyphs">MP-Bedroom 1</text>
<text x="343.7" y="416.9" font-size="7.9" fill="#2a7cc6" font-weight="bold" textLength="47.3" lengthAdjust="spacingAndGlyphs">MP-Backyard</text>
<text x="567.8" y="410.6" font-size="7.9" fill="#2a7cc6" font-weight="bold" textLength="33.4" lengthAdjust="spacingAndGlyphs">MP-Patio</text>
<text x="495.7" y="207.7" font-size="9.5" fill="#1a86f0" textLength="11.5" lengthAdjust="spacingAndGlyphs" stroke="#1a86f0" stroke-width="0.15">1.3</text>
<text x="494.2" y="214.7" font-size="7" fill="#1a86f0" textLength="14.7" lengthAdjust="spacingAndGlyphs">Gbps</text>
<text x="308.8" y="288.8" font-size="9.5" fill="#1a86f0" textLength="16.7" lengthAdjust="spacingAndGlyphs" stroke="#1a86f0" stroke-width="0.15">1.17</text>
<text x="310.1" y="296" font-size="7" fill="#1a86f0" textLength="14.9" lengthAdjust="spacingAndGlyphs">Gbps</text>
<text x="400" y="327.7" font-size="9.5" fill="#1a86f0" textLength="15.1" lengthAdjust="spacingAndGlyphs" stroke="#1a86f0" stroke-width="0.15">585</text>
<text x="400.1" y="334.3" font-size="7" fill="#1a86f0" textLength="15.4" lengthAdjust="spacingAndGlyphs">Mbps</text>
<text x="573.1" y="282.8" font-size="9.5" fill="#1a86f0" textLength="14.9" lengthAdjust="spacingAndGlyphs" stroke="#1a86f0" stroke-width="0.15">780</text>
<text x="573" y="290" font-size="7" fill="#1a86f0" textLength="15.9" lengthAdjust="spacingAndGlyphs">Mbps</text>
<g transform="translate(455.3 262.2) rotate(-21.8)"><text x="0" y="0" font-size="8.8" fill="#8c8c8c" textLength="11.5" lengthAdjust="spacingAndGlyphs">1.3</text><text x="13.5" y="0" font-size="5.8" fill="#8c8c8c" textLength="14" lengthAdjust="spacingAndGlyphs">Gbps</text></g>
<g transform="translate(311.2 376.6) rotate(17.8)"><text x="0" y="0" font-size="8.8" fill="#8c8c8c" font-style="italic" textLength="16" lengthAdjust="spacingAndGlyphs">975</text><text x="18" y="0" font-size="5.8" fill="#8c8c8c" font-style="italic" textLength="14.5" lengthAdjust="spacingAndGlyphs">Mbps</text></g>
<g transform="translate(474.7 336.6) rotate(-46)"><text x="0" y="0" font-size="8.8" fill="#8c8c8c" textLength="16" lengthAdjust="spacingAndGlyphs">780</text><text x="18" y="0" font-size="5.8" fill="#8c8c8c" textLength="14" lengthAdjust="spacingAndGlyphs">Mbps</text></g>
<g transform="translate(485 381.4) rotate(-17.9)"><text x="0" y="0" font-size="8.8" fill="#8c8c8c" textLength="11.5" lengthAdjust="spacingAndGlyphs">1.3</text><text x="13.5" y="0" font-size="5.8" fill="#8c8c8c" textLength="14" lengthAdjust="spacingAndGlyphs">Gbps</text></g>
</g>
</svg>
</body></html>
